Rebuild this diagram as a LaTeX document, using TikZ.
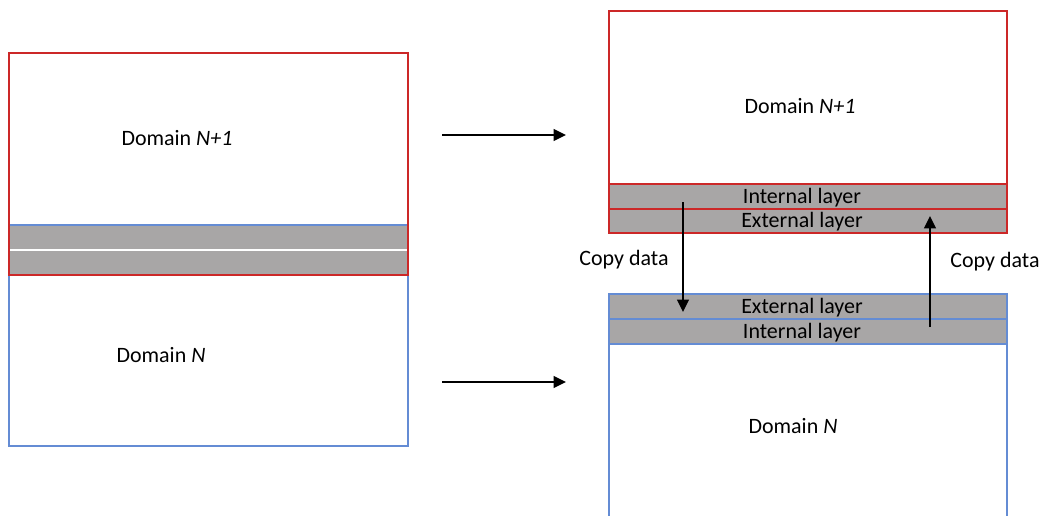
\documentclass[tikz,border=0pt]{standalone}
\usepackage{fontspec}
\setmainfont{Carlito}
\usetikzlibrary{arrows.meta}

\definecolor{domred}{RGB}{204,40,40}
\definecolor{domblue}{RGB}{100,140,212}
\definecolor{layergray}{RGB}{168,166,166}

\tikzset{
  redline/.style={draw=domred, line width=0.9pt},
  blueline/.style={draw=domblue, line width=0.9pt},
  layerfill/.style={fill=layergray},
  flow/.style={line width=1.3pt, -{Triangle[length=7pt,width=6.5pt]}},
  label/.style={font=\fontsize{12.5}{14}\selectfont, inner sep=0pt}
}

\begin{document}
\begin{tikzpicture}[x=0.02cm, y=-0.02cm]
\useasboundingbox (0,0) rectangle (1045,515);
\clip (0,0) rectangle (1045,515);

% left: overlapping domains
\fill[layerfill] (9,225) rectangle (408,275);
\draw[white, line width=1pt] (9,250) -- (408,250);
\draw[blueline] (9,225) rectangle (408,446);
\draw[redline] (9,53) rectangle (408,275);
\node[label] (leftup) at (177,138) {Domain \textit{N+1}};
\node[label] (leftdown) at (161,355) {Domain \textit{N}};

% arrows to the split picture
\coordinate (a1) at (442,135);
\coordinate (b1) at (566,135);
\coordinate (a2) at (442,382);
\coordinate (b2) at (566,382);
\draw[flow] (a1) -- (b1);
\draw[flow] (a2) -- (b2);

% right: domain N+1
\fill[layerfill] (609,184) rectangle (1007,233);
\draw[redline] (609,11) rectangle (1007,233);
\draw[redline] (609,184) -- (1007,184);
\draw[redline] (609,209) -- (1007,209);
\node[label] (upname) at (800,106) {Domain \textit{N+1}};
\node[label] (upint) at (802,198) {Internal layer};
\node[label] (upext) at (802,222) {External layer};

% right: domain N
\fill[layerfill] (609,294) rectangle (1007,344);
\draw[blueline] (609,530) -- (609,294) -- (1007,294) -- (1007,530);
\draw[blueline] (609,319) -- (1007,319);
\draw[blueline] (609,344) -- (1007,344);
\node[label] (downext) at (802,308) {External layer};
\node[label] (downint) at (802,333) {Internal layer};
\node[label] (downname) at (793,426) {Domain \textit{N}};

% exchange of the layers
\coordinate (c1) at (683,202);
\coordinate (d1) at (683,312);
\coordinate (c2) at (930,327);
\coordinate (d2) at (930,216);
\draw[flow] (c1) -- (d1);
\draw[flow] (c2) -- (d2);
\node[label] (copyl) at (624,260) {Copy data};
\node[label] (copyr) at (995,262) {Copy data};
\end{tikzpicture}
\end{document}
